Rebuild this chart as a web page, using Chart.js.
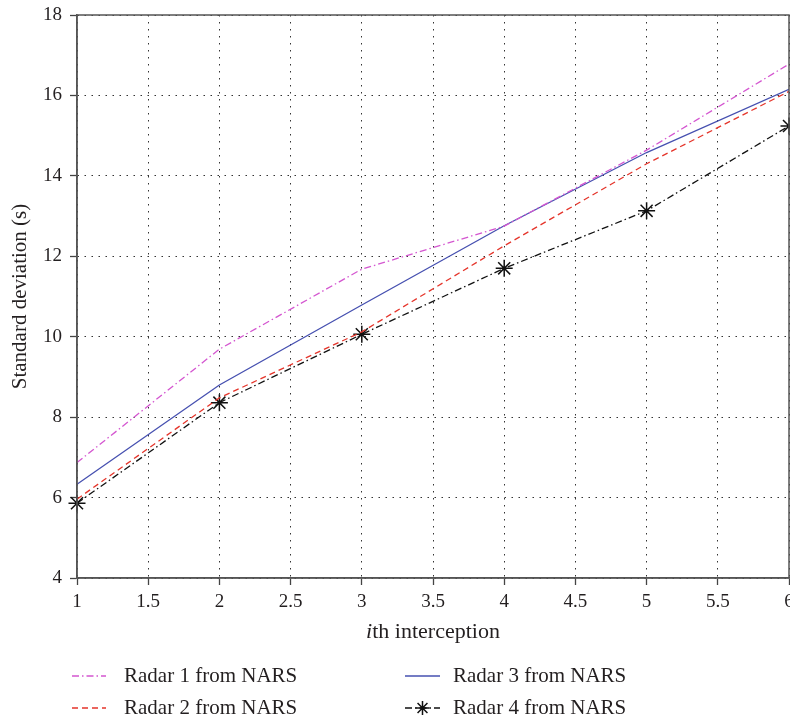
<!DOCTYPE html>
<html>
<head>
<meta charset="utf-8">
<script src="https://cdn.jsdelivr.net/npm/chart.js@4.4.0/dist/chart.umd.min.js"></script>
<style>
  html, body { margin: 0; padding: 0; background: #fff; }
  #wrap { width: 790px; height: 718px; }
</style>
</head>
<body>
<div id="wrap"><canvas id="c" width="790" height="718"></canvas></div>
<script>
// Interception index on the x axis
const interceptions = [1, 2, 3, 4, 5, 6];

// Standard deviation (s) of each radar's NARS estimate
const radar1 = [6.87, 9.69, 11.68, 12.75, 14.64, 16.78];
const radar2 = [5.96, 8.48, 10.12, 12.26, 14.30, 16.10];
const radar3 = [6.33, 8.80, 10.79, 12.76, 14.58, 16.15];
const radar4 = [5.86, 8.36, 10.06, 11.70, 13.13, 15.24];

const seriesNames = ['Radar 1 from NARS', 'Radar 2 from NARS', 'Radar 3 from NARS', 'Radar 4 from NARS'];

const xTicks = [1, 1.5, 2, 2.5, 3, 3.5, 4, 4.5, 5, 5.5, 6];
const yTicks = [4, 6, 8, 10, 12, 14, 16, 18];

const xTitleItalic = 'i';
const xTitleRest = 'th interception';
const yTitle = 'Standard deviation (s)';

const SERIF = '"Liberation Serif", "DejaVu Serif", serif';
const TEXT = '#231f20';
const toXY = ys => interceptions.map((x, i) => ({ x: x, y: ys[i] }));

const datasets = [
  { label: seriesNames[0], data: toXY(radar1), borderColor: '#d456d0', borderDash: [7, 3, 1.5, 3], pointRadius: 0 },
  { label: seriesNames[1], data: toXY(radar2), borderColor: '#e5352b', borderDash: [6, 4], pointRadius: 0 },
  { label: seriesNames[2], data: toXY(radar3), borderColor: '#4650b0', borderDash: [], pointRadius: 0 },
  { label: seriesNames[3], data: toXY(radar4), borderColor: '#111111', borderDash: [7, 3, 1.5, 3], clip: false,
    pointStyle: 'star', pointRadius: 8.5, pointBorderWidth: 1.5, pointBorderColor: '#111', pointBackgroundColor: '#111' }
].map(d => Object.assign({ borderWidth: 1.3, tension: 0, fill: false, pointHoverRadius: 0 }, d));

// Frame, axis titles and the two-column legend below the plot
const decorations = {
  id: 'decorations',
  afterDraw(chart) {
    const { ctx, chartArea: a } = chart;
    ctx.save();
    // box around plot
    ctx.strokeStyle = '#555';
    ctx.lineWidth = 1.5;
    ctx.strokeRect(a.left, a.top, a.right - a.left, a.bottom - a.top);

    ctx.fillStyle = TEXT;
    ctx.textBaseline = 'middle';
    // x title with italic i
    const cx = (a.left + a.right) / 2;
    ctx.font = 'italic 22px ' + SERIF;
    const w1 = ctx.measureText(xTitleItalic).width;
    ctx.font = '22px ' + SERIF;
    const w2 = ctx.measureText(xTitleRest).width;
    const sx = cx - (w1 + w2) / 2;
    ctx.textAlign = 'left';
    ctx.font = 'italic 22px ' + SERIF;
    ctx.fillText(xTitleItalic, sx, 632);
    ctx.font = '22px ' + SERIF;
    ctx.fillText(xTitleRest, sx + w1, 632);

    // y title
    ctx.save();
    ctx.translate(20, (a.top + a.bottom) / 2);
    ctx.rotate(-Math.PI / 2);
    ctx.textAlign = 'center';
    ctx.font = '21px ' + SERIF;
    ctx.fillText(yTitle, 0, 0);
    ctx.restore();

    // legend
    const slots = [
      { x0: 72, x1: 106, tx: 124, y: 676 },
      { x0: 72, x1: 106, tx: 124, y: 708 },
      { x0: 405, x1: 440, tx: 453, y: 676 },
      { x0: 405, x1: 440, tx: 453, y: 708 }
    ];
    chart.data.datasets.forEach((ds, i) => {
      const s = slots[i];
      ctx.save();
      ctx.strokeStyle = ds.borderColor;
      ctx.lineWidth = ds.borderWidth;
      ctx.setLineDash(ds.borderDash || []);
      ctx.beginPath();
      ctx.moveTo(s.x0, s.y);
      ctx.lineTo(s.x1, s.y);
      ctx.stroke();
      ctx.restore();
      if (ds.pointRadius > 0) {
        ctx.save();
        ctx.strokeStyle = ds.pointBorderColor;
        ctx.fillStyle = ds.pointBackgroundColor;
        ctx.lineWidth = ds.pointBorderWidth;
        Chart.helpers.drawPoint(ctx, { pointStyle: ds.pointStyle, radius: 7, borderWidth: ds.pointBorderWidth, rotation: 0 },
          (s.x0 + s.x1) / 2, s.y);
        ctx.restore();
      }
      ctx.fillStyle = TEXT;
      ctx.font = '21px ' + SERIF;
      ctx.textAlign = 'left';
      ctx.fillText(ds.label, s.tx, s.y);
    });
    ctx.restore();
  }
};

const gridCommon = {
  color: '#333',
  lineWidth: 1,
  drawTicks: true,
  tickLength: 7,
  tickColor: '#444',
  tickWidth: 1.3,
  tickBorderDash: []
};
const borderCommon = { display: true, color: '#555', width: 1.5, dash: [1.5, 5.5] };

new Chart(document.getElementById('c'), {
  type: 'line',
  data: { datasets: datasets },
  options: {
    responsive: false,
    devicePixelRatio: 1,
    animation: false,
    events: [],
    layout: { autoPadding: false, padding: { top: 15, right: 1, left: 0, bottom: 0 } },
    plugins: { legend: { display: false }, tooltip: { enabled: false } },
    scales: {
      x: {
        type: 'linear',
        min: 1, max: 6,
        afterBuildTicks: s => { s.ticks = xTicks.map(v => ({ value: v })); },
        afterFit: s => { s.height = 140; s.paddingLeft = 0; s.paddingRight = 0; },
        ticks: { autoSkip: false, maxRotation: 0, padding: 6, color: TEXT, font: { family: SERIF, size: 19 },
          callback: v => String(v) },
        grid: gridCommon,
        border: borderCommon
      },
      y: {
        type: 'linear',
        min: 4, max: 18,
        afterBuildTicks: s => { s.ticks = yTicks.map(v => ({ value: v })); },
        afterFit: s => { s.width = 77; s.paddingTop = 0; s.paddingBottom = 0; },
        ticks: { padding: 8, color: TEXT, font: { family: SERIF, size: 19 }, callback: v => String(v) },
        grid: gridCommon,
        border: borderCommon
      }
    }
  },
  plugins: [decorations]
});
</script>
</body>
</html>
